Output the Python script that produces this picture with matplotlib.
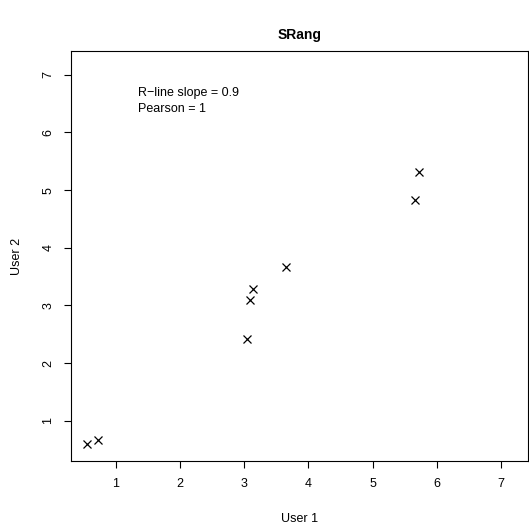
import matplotlib
matplotlib.use("Agg")
import matplotlib.pyplot as plt

# values
user1 = [0.55, 0.72, 3.05, 3.09, 3.14, 3.65, 5.66, 5.73]
user2 = [0.60, 0.67, 2.42, 3.10, 3.29, 3.67, 4.82, 5.32]
ticks = [1, 2, 3, 4, 5, 6, 7]
notes = ["R\u2212line slope = 0.9", "Pearson = 1"]

plt.rcParams['font.family'] = ['Liberation Sans', 'DejaVu Sans']
plt.rcParams['font.size'] = 9

fig = plt.figure(figsize=(5.29, 5.27), dpi=100)
ax = fig.add_axes([0.134, 0.125, 0.864, 0.778])

ax.plot(user1, user2, linestyle='none', marker='x', color='black', markersize=5.5, markeredgewidth=0.9)

ax.set_xlim(0.3, 7.42)
ax.set_ylim(0.3, 7.41)
ax.set_xticks(ticks)
ax.set_yticks(ticks)
ax.tick_params(direction='out', length=5, width=0.8, pad=7)
for lab in ax.get_yticklabels():
    lab.set_rotation(90)
    lab.set_va('center')

ax.text(1.34, 6.68, notes[0], va='center', ha='left')
ax.text(1.34, 6.41, notes[1], va='center', ha='left')

ax.set_title("SRang", fontweight='bold', fontsize=10, pad=9)
ax.set_xlabel("User 1", labelpad=17)
ax.set_ylabel("User 2", labelpad=14)

fig.savefig("out.png", dpi=100)
